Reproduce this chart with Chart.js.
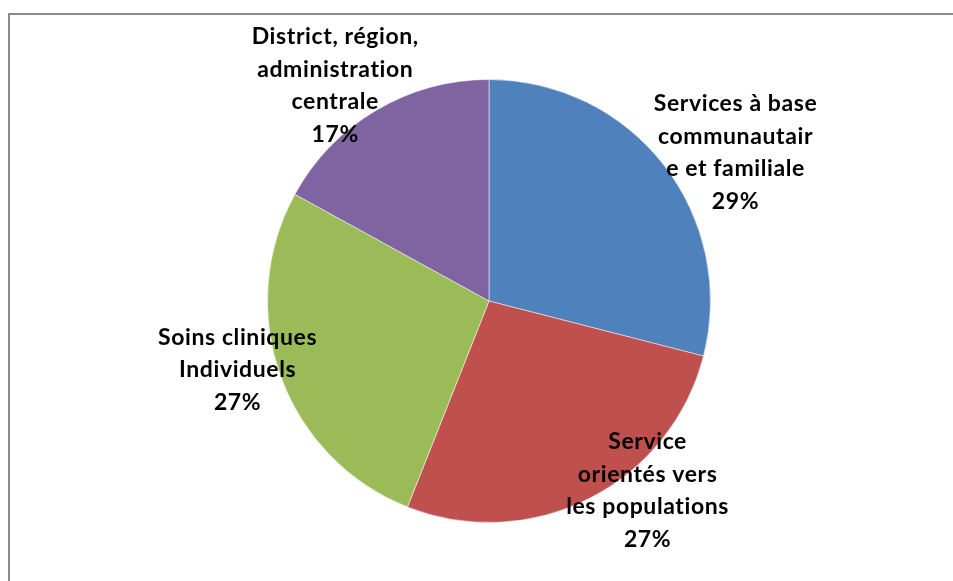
<!DOCTYPE html>
<html>
<head>
<meta charset="utf-8">
<script src="https://cdn.jsdelivr.net/npm/chart.js@4"></script>
<style>
  html, body { margin: 0; padding: 0; background: #ffffff; }
  #wrap { position: relative; width: 953px; height: 581px; }
</style>
</head>
<body>
<div id="wrap"><canvas id="c" width="953" height="581"></canvas></div>
<script>
// ---- data ----
const categories = [
  ["Services à base", "communautair", "e et familiale"],
  ["Service", "orientés vers", "les populations"],
  ["Soins cliniques", "Individuels"],
  ["District, région,", "administration", "centrale"]
];
const shares = [29, 27, 27, 17];
const percentLabels = ["29%", "27%", "27%", "17%"];
const sliceColors = ["#4F81BD", "#C0504D", "#9BBB59", "#8064A2"];

// label anchor offsets relative to the pie radius (dx, dy of label block centre)
const labelOffsets = [
  [1.113, -0.671],
  [0.716, 0.856],
  [-1.135, 0.311],
  [-0.694, -0.973]
];

const framePlugin = {
  id: 'frame',
  beforeDraw(chart) {
    const ctx = chart.ctx;
    ctx.save();
    ctx.strokeStyle = '#8a8a8a';
    ctx.lineWidth = 2;
    ctx.beginPath();
    ctx.moveTo(9, chart.height);
    ctx.lineTo(9, 14);
    ctx.lineTo(chart.width, 14);
    ctx.stroke();
    ctx.restore();
  }
};

const labelPlugin = {
  id: 'outerLabels',
  afterDatasetsDraw(chart) {
    const ctx = chart.ctx;
    const meta = chart.getDatasetMeta(0);
    ctx.save();
    ctx.font = 'bold 23px Lato';
    if ('letterSpacing' in ctx) ctx.letterSpacing = '0.6px';
    ctx.fillStyle = '#000';
    ctx.textAlign = 'center';
    ctx.textBaseline = 'middle';
    const lh = 32.5;
    meta.data.forEach((arc, i) => {
      const r = arc.outerRadius;
      const cx = arc.x + labelOffsets[i][0] * r;
      const cy = arc.y + labelOffsets[i][1] * r;
      const lines = categories[i].concat([percentLabels[i]]);
      const top = cy - (lines.length - 1) * lh / 2;
      lines.forEach((t, k) => ctx.fillText(t, cx, top + k * lh));
    });
    ctx.restore();
  }
};

new Chart(document.getElementById('c'), {
  type: 'pie',
  data: {
    labels: categories.map(c => c.join(' ')),
    datasets: [{
      data: shares,
      backgroundColor: sliceColors,
      borderColor: 'rgba(255,255,255,0.5)',
      borderWidth: 1
    }]
  },
  options: {
    responsive: false,
    animation: false,
    layout: { padding: { top: 79, bottom: 58, left: 150, right: 125 } },
    plugins: {
      legend: { display: false },
      tooltip: { enabled: false }
    }
  },
  plugins: [framePlugin, labelPlugin]
});
</script>
</body>
</html>
